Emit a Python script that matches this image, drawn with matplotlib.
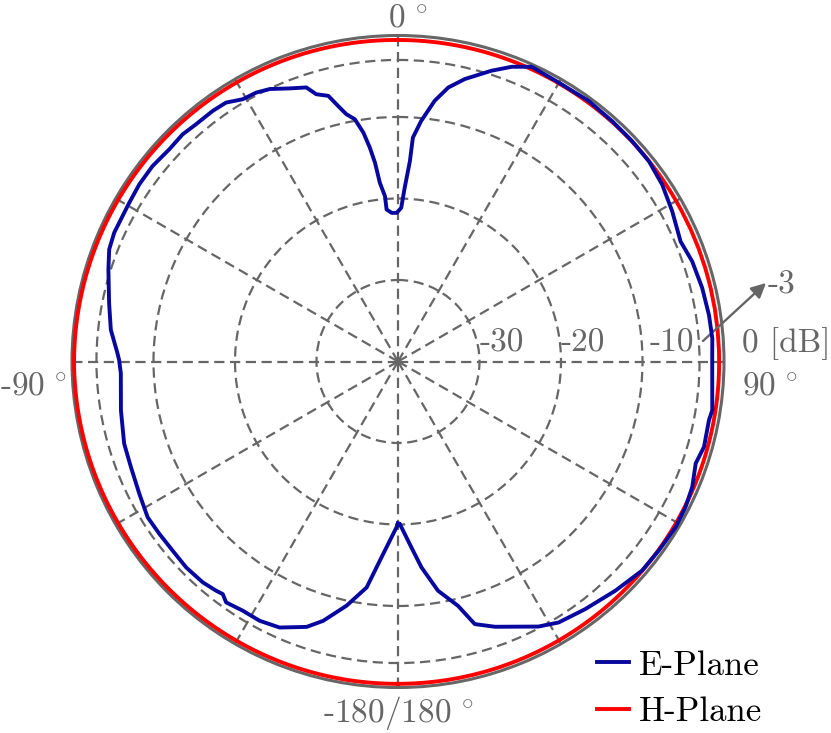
import numpy as np
import matplotlib
matplotlib.use("Agg")
import matplotlib.pyplot as plt

plt.rcParams['font.family'] = ['cmr10', 'DejaVu Serif']
plt.rcParams['mathtext.fontset'] = 'cm'
plt.rcParams['axes.unicode_minus'] = False

# ---- data (angle in degrees, level in dB) ----
e_theta = [-180.0, -179.5, -177.4, -174.8, -172.1, -168.1, -163.9, -161.0, -156.0, -151.9,
           -148.1, -144.5, -143.0, -141.6, -138.5, -134.2, -130.0, -125.8, -121.9, -117.1,
           -111.6, -106.7, -100.0, -92.4, -89.7, -88.3, -83.7, -78.6, -72.4, -68.8,
           -65.6, -62.2, -59.4, -55.6, -51.5, -47.1, -43.5, -40.4, -36.5, -33.6,
           -30.6, -27.8, -25.2, -21.6, -18.5, -17.0, -14.7, -13.2, -11.8, -10.1,
           -8.6, -7.5, -6.6, -5.8, -4.5, -4.3, -2.4, -0.5, 1.2, 2.2,
           3.4, 3.8, 5.5, 8.0, 10.4, 13.3, 17.8, 21.1, 24.4, 29.9,
           36.2, 41.7, 46.7, 51.4, 56.2, 61.3, 67.0, 71.2, 76.4, 81.5,
           85.8, 89.1, 98.8, 100.7, 105.6, 108.9, 113.1, 116.9, 120.8, 125.9,
           130.6, 136.5, 142.9, 148.4, 152.1, 159.9, 163.7, 166.2, 170.1, 173.5,
           175.9, 179.4, 180.0]
e_db = [-20.12, -19.67, -18.01, -15.47, -12.01, -9.38, -6.88, -5.56, -4.27, -3.94,
        -3.98, -3.69, -4.27, -4.10, -3.83, -3.75, -3.90, -3.88, -3.82, -4.35,
        -4.76, -4.92, -5.48, -5.96, -5.78, -5.56, -4.55, -3.84, -2.72, -1.99,
        -1.76, -1.78, -1.70, -1.53, -1.50, -1.72, -1.59, -1.77, -1.76, -1.86,
        -2.61, -2.70, -3.05, -3.96, -4.54, -5.71, -6.30, -7.79, -9.00, -9.81,
        -11.60, -13.54, -15.45, -17.96, -19.65, -21.30, -21.75, -21.76, -21.14, -18.67,
        -15.37, -12.47, -10.35, -7.70, -5.82, -4.39, -2.53, -1.24, -0.29, -0.50,
        -0.38, -0.50, -0.55, -0.61, -0.99, -1.64, -2.33, -1.87, -1.60, -1.42,
        -1.33, -1.44, -0.98, -1.17, -1.02, -1.39, -0.75, -0.45, -0.33, -0.48,
        -0.57, -1.24, -1.91, -2.40, -3.20, -5.34, -6.43, -9.13, -11.45, -14.58,
        -17.15, -20.09, -20.12]

h_theta = [-180, -150, -120, -90, -60, -30, 0, 30, 60, 90, 120, 150, 180]
h_db = [-0.45, -0.42, -0.35, -0.25, -0.35, -0.45, -0.55, -0.58, -0.6, -0.6, -0.55, -0.5, -0.45]

r_rings = [-30, -20, -10, -3]
r_labels = ['-30', '-20', '-10']
theta_grid = list(range(0, 360, 30))
series_names = ['E-Plane', 'H-Plane']

# ---- figure ----
W, H = 831, 733
fig = plt.figure(figsize=(W / 100, H / 100), dpi=100)

cx, cy, R = 398, 361.5, 326
ax = fig.add_axes([(cx - R) / W, (H - cy - R) / H, 2 * R / W, 2 * R / H], projection='polar')
ax.set_theta_zero_location('N')
ax.set_theta_direction(-1)
ax.set_ylim(-40, 0)

grey = '#666666'
ax.set_thetagrids(theta_grid, labels=[''] * len(theta_grid))
ax.set_rgrids(r_rings, labels=[''] * len(r_rings))
ax.grid(True, color=grey, linestyle=(0, (4.6, 2.5)), linewidth=1.6)
ax.spines['polar'].set_color(grey)
ax.spines['polar'].set_linewidth(2.2)
ax.tick_params(length=0)

l1, = ax.plot(np.deg2rad(e_theta), e_db, color='#0808a0', lw=2.8, label=series_names[0], zorder=4)
l2, = ax.plot(np.deg2rad(h_theta), h_db, color='#ff0000', lw=2.8, label=series_names[1], zorder=3)
l2.get_path()._interpolation_steps = 40

def fp(x, y):
    return (x / W, 1 - y / H)

fs = 24
tc = grey
fig.text(*fp(388, 27), r'0$\,^\circ$', ha='left', va='baseline', fontsize=fs, color=tc)
fig.text(*fp(742, 396), r'90$\,^\circ$', ha='left', va='baseline', fontsize=fs, color=tc)
fig.text(*fp(0, 396), r'-90$\,^\circ$', ha='left', va='baseline', fontsize=fs, color=tc)
fig.text(*fp(323, 722), r'-180/180$\,^\circ$', ha='left', va='baseline', fontsize=fs, color=tc)

for lab, x in zip(r_labels, [480, 561, 650]):
    fig.text(*fp(x, 352), lab, ha='left', va='baseline', fontsize=fs, color=tc)
fig.text(*fp(742, 352), '0 [dB]', ha='left', va='baseline', fontsize=fs, color=tc)

ax.annotate('', xy=fp(766, 283), xytext=fp(703, 341), xycoords='figure fraction',
            textcoords='figure fraction',
            arrowprops=dict(arrowstyle='-|>', color=grey, lw=1.7, mutation_scale=22,
                            shrinkA=0, shrinkB=0))
fig.text(*fp(768, 294), '-3', ha='left', va='baseline', fontsize=fs, color=tc)

leg = ax.legend(handles=[l1, l2], loc='upper left', bbox_to_anchor=fp(597, 650),
                bbox_transform=fig.transFigure, frameon=False, fontsize=25,
                handlelength=0.92, handletextpad=0.3, labelspacing=0.42,
                borderpad=0, borderaxespad=0)

fig.savefig('out.png', dpi=100)
